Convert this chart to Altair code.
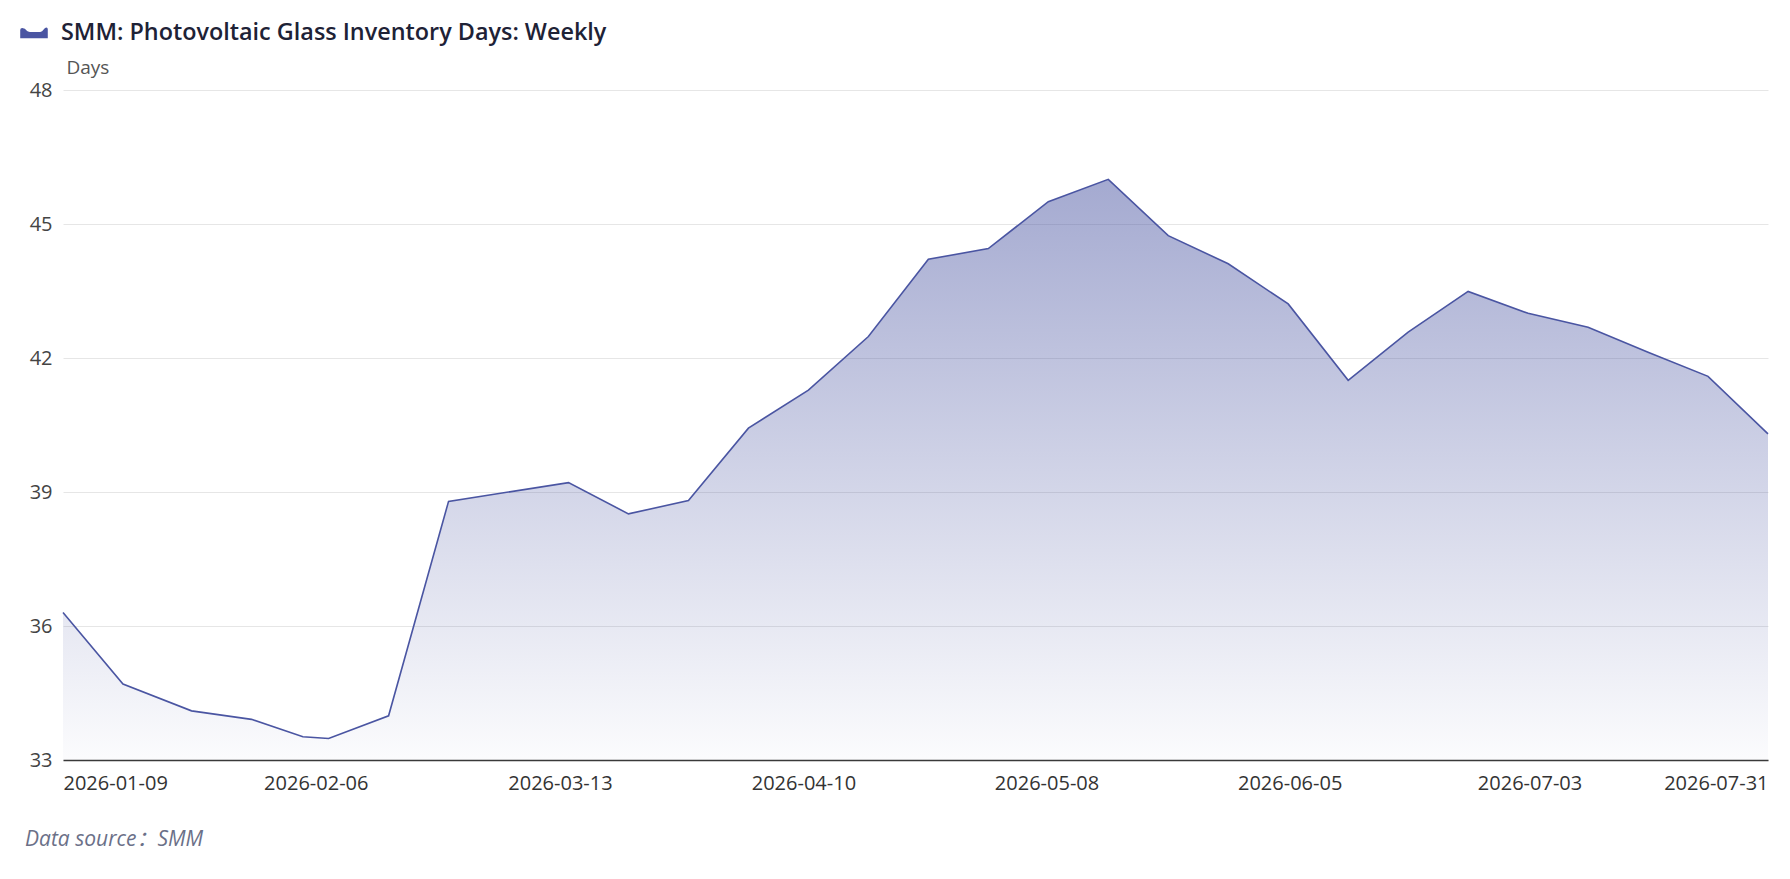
import json
import altair as alt
import pandas as pd

# ---- data ----
dates = ["2026-01-13", "2026-01-20", "2026-01-28", "2026-02-04", "2026-02-10",
         "2026-02-13", "2026-02-20", "2026-02-27", "2026-03-13", "2026-03-20",
         "2026-03-27", "2026-04-03", "2026-04-10", "2026-04-17", "2026-04-24",
         "2026-05-01", "2026-05-08", "2026-05-15", "2026-05-22", "2026-05-29",
         "2026-06-05", "2026-06-12", "2026-06-19", "2026-06-26", "2026-07-03",
         "2026-07-10", "2026-07-17", "2026-07-24", "2026-07-31"]
values = [36.30, 34.70, 34.10, 33.91, 33.52,
          33.48, 33.99, 38.79, 39.21, 38.51,
          38.81, 40.43, 41.28, 42.48, 44.21,
          44.45, 45.50, 46.00, 44.74, 44.11,
          43.21, 41.50, 42.58, 43.49, 43.00,
          42.69, 42.13, 41.59, 40.30]
series_name = "SMM: Photovoltaic Glass Inventory Days: Weekly"

# where the reference puts its x tick labels, and what they read
tick_times = ["2026-01-13T00:00", "2026-02-11T12:00", "2026-03-12T00:00",
              "2026-04-09T10:00", "2026-05-07T19:00", "2026-06-05T04:00",
              "2026-07-03T04:00", "2026-07-31T00:00"]
tick_labels = ["2026-01-09", "2026-02-06", "2026-03-13", "2026-04-10",
               "2026-05-08", "2026-06-05", "2026-07-03", "2026-07-31"]
y_ticks = [33, 36, 39, 42, 45, 48]
y_domain = [33, 48]

df = pd.DataFrame({"date": dates, "value": values, "series": series_name})


def dt(s):
    ts = pd.Timestamp(s)
    return alt.DateTime(year=ts.year, month=ts.month, date=ts.day,
                        hours=ts.hour, minutes=ts.minute, utc=True)


tick_ms = [int(pd.Timestamp(s, tz="UTC").value // 10**6) for s in tick_times]

FONT = "Open Sans"
LINE = "#4a55a2"
ICON = ("M-1,0.38 L-1,-0.22 Q-1,-0.36 -0.85,-0.36 Q-0.65,-0.36 -0.5,-0.14 "
        "Q-0.45,-0.08 -0.3,-0.08 L0.45,-0.08 Q0.6,-0.08 0.7,-0.26 "
        "Q0.8,-0.4 0.9,-0.4 Q1,-0.4 1,-0.28 L1,0.38 Z")

label_expr = (f"{json.dumps(tick_labels)}[indexof({json.dumps(tick_ms)}, "
              f"time(datum.value))]")

x_enc = alt.X(
    "date:T",
    scale=alt.Scale(type="utc", domain=[dt(dates[0]), dt(dates[-1])]),
    axis=alt.Axis(
        values=[dt(t) for t in tick_times], labelExpr=label_expr,
        labelFlush=True, labelOverlap=False, labelFontSize=20,
        labelFont=FONT, labelColor="#333333", labelPadding=13,
        ticks=False, grid=False, domainColor="#3a3a3a", domainWidth=1.5,
        title=None,
    ),
)
y_enc = alt.Y(
    "value:Q",
    scale=alt.Scale(domain=y_domain, nice=False, zero=False),
    axis=alt.Axis(
        values=y_ticks, title="Days", titleAngle=0, titleAlign="left",
        titleBaseline="alphabetic", titleX=3, titleY=-17, titleFontSize=19,
        titleFontWeight="normal", titleColor="#555555", titleFont=FONT,
        labelFontSize=20, labelFont=FONT, labelColor="#444444",
        labelPadding=11, ticks=False, domain=False,
        gridColor="#e6e6e6", gridWidth=1,
    ),
)

base = alt.Chart(df).encode(x=x_enc, y=y_enc)

area = base.mark_area(
    color=alt.Gradient(
        gradient="linear",
        stops=[alt.GradientStop(color="rgba(74,85,162,0.50)", offset=0),
               alt.GradientStop(color="rgba(74,85,162,0.02)", offset=1)],
        x1=0, x2=0, y1=0, y2=1,
    )
).encode(y2=alt.datum(y_domain[0]))

line = base.mark_line(strokeWidth=1.6).encode(
    color=alt.Color(
        "series:N",
        scale=alt.Scale(range=[LINE]),
        legend=alt.Legend(
            title=None, orient="none", legendX=-43, legendY=-71, padding=0,
            labelFontSize=23.4, labelFontWeight=600, labelFont=FONT,
            labelColor="#1e2236", labelLimit=1000, labelOffset=13,
            symbolType=ICON, symbolSize=760, symbolFillColor=LINE,
            symbolStrokeColor=LINE, symbolStrokeWidth=0,
        ),
    )
)

chart = (
    alt.layer(area, line)
    .properties(
        width=1705, height=670,
        autosize=alt.AutoSizeParams(type="none"),
        padding={"left": 55, "top": 82, "right": 10, "bottom": 100},
        background="white",
        title=alt.TitleParams(
            "Data source：SMM", orient="bottom", anchor="start", frame="group",
            dx=-38, offset=36, fontSize=21, fontStyle="italic",
            fontWeight="normal", color="#6b7088",
            font="Open Sans, 'Noto Sans CJK SC'",
        ),
    )
    .configure_view(stroke=None)
)

chart.save("out.html", embed_options={"renderer": "svg", "actions": False})
